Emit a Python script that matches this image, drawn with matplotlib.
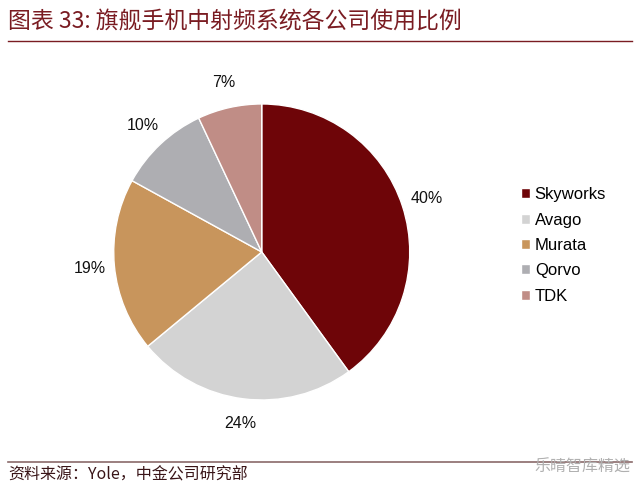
import matplotlib
matplotlib.use('Agg')
import matplotlib.pyplot as plt

plt.rcParams['font.family'] = ['Liberation Sans', 'Noto Sans CJK SC', 'DejaVu Sans']

companies = ['Skyworks', 'Avago', 'Murata', 'Qorvo', 'TDK']
shares = [40, 24, 19, 10, 7]
colors = ['#6e0508', '#d3d3d3', '#c8955c', '#aeaeb2', '#c08d86']

title = '图表 33: 旗舰手机中射频系统各公司使用比例'
source = '资料来源：Yole，中金公司研究部'
mark = '乐晴智库精选'

fig = plt.figure(figsize=(6.4, 4.96), dpi=100)
fig.patch.set_facecolor('white')

# pie
ax = fig.add_axes([0.409 - 0.2313, 0.492 - 0.2984, 0.4625, 0.5968])
wedges, texts = ax.pie(shares, colors=colors, startangle=90, counterclock=False,
                       labels=['%d%%' % s for s in shares], labeldistance=1.17,
                       wedgeprops=dict(edgecolor='white', linewidth=1),
                       textprops=dict(fontsize=11.5, color='#111111'))
for t in texts:
    t.set_ha('center')
    t.set_va('center')
ax.set_xlim(-1, 1)
ax.set_ylim(-1, 1)
ax.set_aspect('equal')

# legend
ax.legend(wedges, companies, loc='center left', bbox_to_anchor=(0.79, 0.505),
          bbox_transform=fig.transFigure, frameon=False, fontsize=12,
          handlelength=0.55, handleheight=0.55, handletextpad=0.3, labelspacing=0.62)

# header / footer
fig.text(0.013, 0.955, title, fontsize=16.5, color='#7a1c22', fontstyle='italic',
         family=['Noto Sans CJK SC', 'DejaVu Sans'], va='center', ha='left')
fig.add_artist(plt.Line2D([0.012, 0.988], [0.918, 0.918], color='#7a1c22', lw=1))
fig.add_artist(plt.Line2D([0.012, 0.988], [0.068, 0.068], color='#8a6a6a', lw=1.2))
fig.text(0.013, 0.043, source, fontsize=11.5, color='#3a1518',
         family=['Noto Sans CJK SC', 'DejaVu Sans'], va='center', ha='left')
fig.text(0.985, 0.058, mark, fontsize=11.5, color='#b0b0b0',
         family=['Noto Sans CJK SC', 'DejaVu Sans'], va='center', ha='right')

fig.savefig('out.png', dpi=100, facecolor='white')
